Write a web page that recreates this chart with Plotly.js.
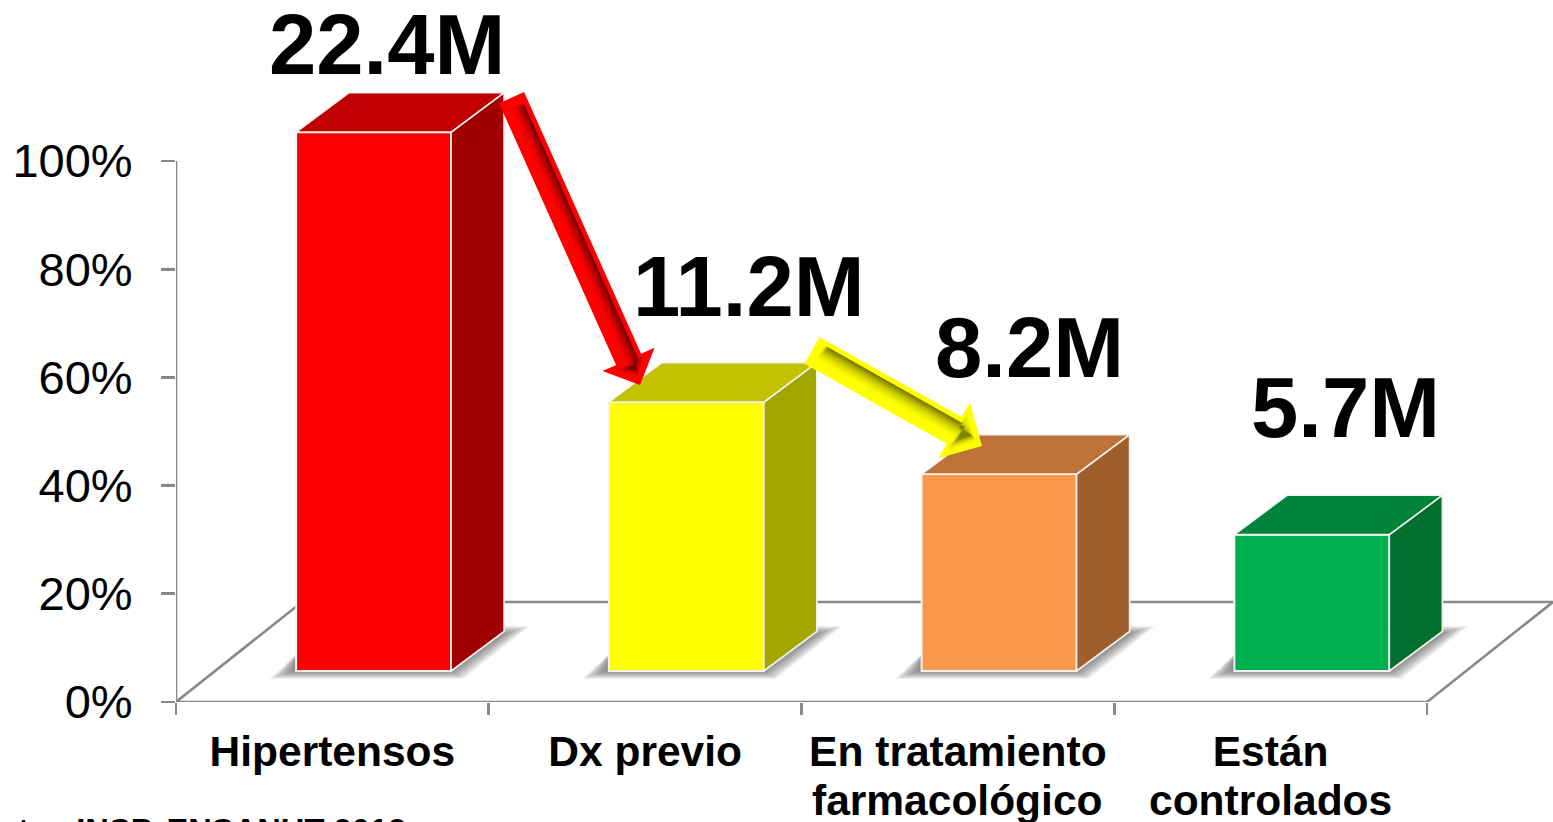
<!DOCTYPE html>
<html><head><meta charset="utf-8">
<script src="https://cdn.plot.ly/plotly-3.0.1.min.js"></script>
<style>html,body{margin:0;padding:0;background:#fff;overflow:hidden}</style>
</head><body><div id="chart" style="width:1553px;height:822px"></div>
<script>
// --- data ---
const categories = ["Hipertensos", "Dx previo", "En tratamiento", "Están"];
const categoriesLine2 = ["", "", "farmacológico", "controlados"];
const percentValues = [99.6, 49.7, 36.4, 25.2];
const valueLabels = ["22.4M", "11.2M", "8.2M", "5.7M"];
const yTicks = [0, 20, 40, 60, 80, 100];
const yTickLabels = ["0%", "20%", "40%", "60%", "80%", "100%"];
const sourceNote = "Fuente:  INSP, ENSANUT 2012";

// --- styling ---
const frontColors = ["#FF0000", "#FFFF00", "#FB984A", "#00B050"];
const sideColors  = ["#A00000", "#A5A500", "#9E5F2D", "#00702F"];
const topColors   = ["#C00000", "#C2C200", "#BD7238", "#00843C"];
const axisGrey = "#898989";
const font = "Liberation Sans, Arial, sans-serif";

// --- scale helpers (size of one data unit in the picture) ---
const W = 1553, H = 822, L = 176, T = 0, B = 702;
const uX = 312.75, uY = 5.41;
const dx = px => px / uX, dy = px => px / uY;

const barLeft = 0.384, barW = 0.4956;
const base = dy(31);
const depthX = dx(53), depthY = dy(39.5);
const floorX = dx(126), floorY = dy(100);

const traces = [];
function poly(xs, ys, fill, line, lw) {
  traces.push({type: "scatter", mode: "lines", x: [...xs, xs[0]], y: [...ys, ys[0]], fill: "toself",
    fillcolor: fill, line: {color: line || fill, width: lw === undefined ? 0 : lw},
    hoverinfo: "skip", showlegend: false});
}

// front faces: a real bar trace
traces.push({type: "bar", x: categories.map((c, i) => i + barLeft + barW / 2), y: percentValues,
  base: percentValues.map(() => base), width: barW, marker: {color: frontColors, line: {color: "#F2F2F2", width: 2}},
  hoverinfo: "skip", showlegend: false});

// side and top faces
percentValues.forEach((v, i) => {
  const x0 = i + barLeft, x1 = x0 + barW, top = base + v;
  poly([x1, x1 + depthX, x1 + depthX, x1], [base, base + depthY, top + depthY, top], sideColors[i], "#F2F2F2", 1.6);
  poly([x0, x1, x1 + depthX, x0 + depthX], [top, top, top + depthY, top + depthY], topColors[i], "#F2F2F2", 1.6);
});

// arrows (data units): tail and tip, half-widths given in px
const arrows = [
  {from: [1.073, 111.7], to: [1.4836, 58.6], hw: 13.7, hl: 28, hh: 28.5, base: [255, 0, 0], dark: [125, 0, 0]},
  {from: [2.0336, 65.0], to: [2.577, 47.3], hw: 15.3, hl: 32, hh: 32, base: [255, 255, 0], dark: [130, 130, 0]}
];
arrows.forEach(a => {
  const tx = a.from[0] * uX, ty = -a.from[1] * uY, px = a.to[0] * uX, py = -a.to[1] * uY;
  const len = Math.hypot(px - tx, py - ty), ux = (px - tx) / len, uy = (py - ty) / len;
  const nx = uy, ny = -ux; // toward the upper right (dark side)
  const pt = (al, ac) => [(tx + ux * al + nx * ac) / uX, -(ty + uy * al + ny * ac) / uY];
  const draw = (pts, col) => poly(pts.map(p => p[0]), pts.map(p => p[1]), col);
  const col = t => "rgb(" + a.base.map((b, i) => Math.round(b + (a.dark[i] - b) * t)).join(",") + ")";
  const hb = len - a.hl;
  draw([pt(0, -a.hw), pt(0, a.hw), pt(hb, a.hw), pt(hb, a.hh), pt(len, 0), pt(hb, -a.hh), pt(hb, -a.hw)], col(0));
  const inset = 5, n = 12, top = a.hw - inset, bot = -a.hw + inset;
  for (let k = 0; k < n; k++) {
    const t = (k + 1) / n, ac0 = bot + (top - bot) * (0.15 + 0.83 * k / n);
    const al0 = 8 + 5 * k / n, hs = a.hh - inset * 1.7;
    draw([pt(al0, ac0), pt(al0, top), pt(hb + 3, top), pt(hb + 3, hs * (1 - 0.9 * k / n)),
          pt(len - inset * 1.5 - k * 0.6, hs * 0.2 * t), pt(hb + 3 + k * 0.4, -hs * (1 - 0.8 * k / n)), pt(hb + 3 + k * 0.4, ac0)], col(Math.pow(t, 1.9)));
  }
});

// floor, axes and shadows live under the traces
const shapes = [];
const seg = (x0, y0, x1, y1) => shapes.push({type: "line", xref: "x", yref: "y", x0, y0, x1, y1, layer: "below", line: {color: axisGrey, width: 2.6}});
const nCat = categories.length;
seg(0, 0, 0, 100);
seg(0, 0, nCat, 0);
seg(0, 0, floorX, floorY);
seg(nCat, 0, nCat + floorX, floorY);
seg(floorX, floorY, nCat + floorX, floorY);
percentValues.forEach((v, i) => {
  const x0 = i + barLeft, x1 = x0 + barW, lv = 14;
  const outer = [[x0 - dx(27), dy(23)], [x1 + dx(12), dy(23)], [x1 + dx(79), dy(76)], [x1 + dx(30), dy(76)], [x0, dy(48)]];
  const inner = [[x0 - dx(3), dy(31)], [x1 + dx(0), dy(31)], [x1 + dx(52), dy(68)], [x1 + dx(30), dy(68)], [x0, dy(45)]];
  for (let k = 0; k < lv; k++) {
    const t = k / (lv - 1);
    const p = outer.map((o, j) => [o[0] + (inner[j][0] - o[0]) * t, o[1] + (inner[j][1] - o[1]) * t]);
    shapes.push({type: "path", xref: "x", yref: "y", layer: "below", line: {width: 0}, fillcolor: "rgba(60,60,60,0.06)",
      path: "M" + p.map(q => q[0] + "," + q[1]).join("L") + "Z"});
  }
});

// text
const labelDX = [13, 62.5, 30, 34], labelBase = [75, 317, 378, 438];
const annotations = [];
valueLabels.forEach((s, i) => annotations.push({text: "<b>" + s + "</b>", xref: "x", yref: "y",
  x: i + barLeft + barW / 2 + dx(labelDX[i]), y: (B - labelBase[i]) / uY, xanchor: "center", yanchor: "bottom", yshift: -19,
  showarrow: false, font: {family: font, size: 85, color: "#000"}}));
categoriesLine2.forEach((s, i) => { if (s) annotations.push({text: "<b>" + s + "</b>", xref: "x", yref: "paper",
  x: i + 0.5, y: 0, yshift: -124, xanchor: "center", yanchor: "bottom", showarrow: false,
  font: {family: font, size: 42.5, color: "#000"}}); });
annotations.push({text: "<b>" + sourceNote + "</b>", xref: "paper", yref: "paper", x: -0.173, y: 0, yshift: -149,
  xanchor: "left", yanchor: "bottom", showarrow: false, font: {family: font, size: 32.7, color: "#000"}});

const layout = {
  width: W, height: H, margin: {l: L, r: 0, t: T, b: H - B, pad: 0},
  paper_bgcolor: "#fff", plot_bgcolor: "rgba(0,0,0,0)", showlegend: false, bargap: 0,
  font: {family: font, color: "#000"},
  xaxis: {range: [0, (W - L) / uX], showgrid: false, zeroline: false, showline: false, fixedrange: true,
    tickmode: "array", tickvals: categories.map((c, i) => i + 0.5), ticktext: categories.map(c => "<b>" + c + "</b>"),
    ticks: "", tickfont: {family: font, size: 42.5, color: "#000"}, ticklabelstandoff: 20,
    minor: {tickmode: "array", tickvals: [0, 1, 2, 3, 4], ticks: "outside", ticklen: 12, tickwidth: 2.6, tickcolor: axisGrey, showgrid: false}},
  yaxis: {range: [0, (B - T) / uY], showgrid: false, zeroline: false, showline: false, fixedrange: true,
    tickmode: "array", tickvals: yTicks, ticktext: yTickLabels, ticks: "outside", ticklen: 14, tickwidth: 2.6, tickcolor: axisGrey,
    tickfont: {family: font, size: 47, color: "#000"}, ticklabelstandoff: 19},
  shapes, annotations
};
Plotly.newPlot("chart", traces, layout, {displayModeBar: false, staticPlot: true});
</script></body></html>
